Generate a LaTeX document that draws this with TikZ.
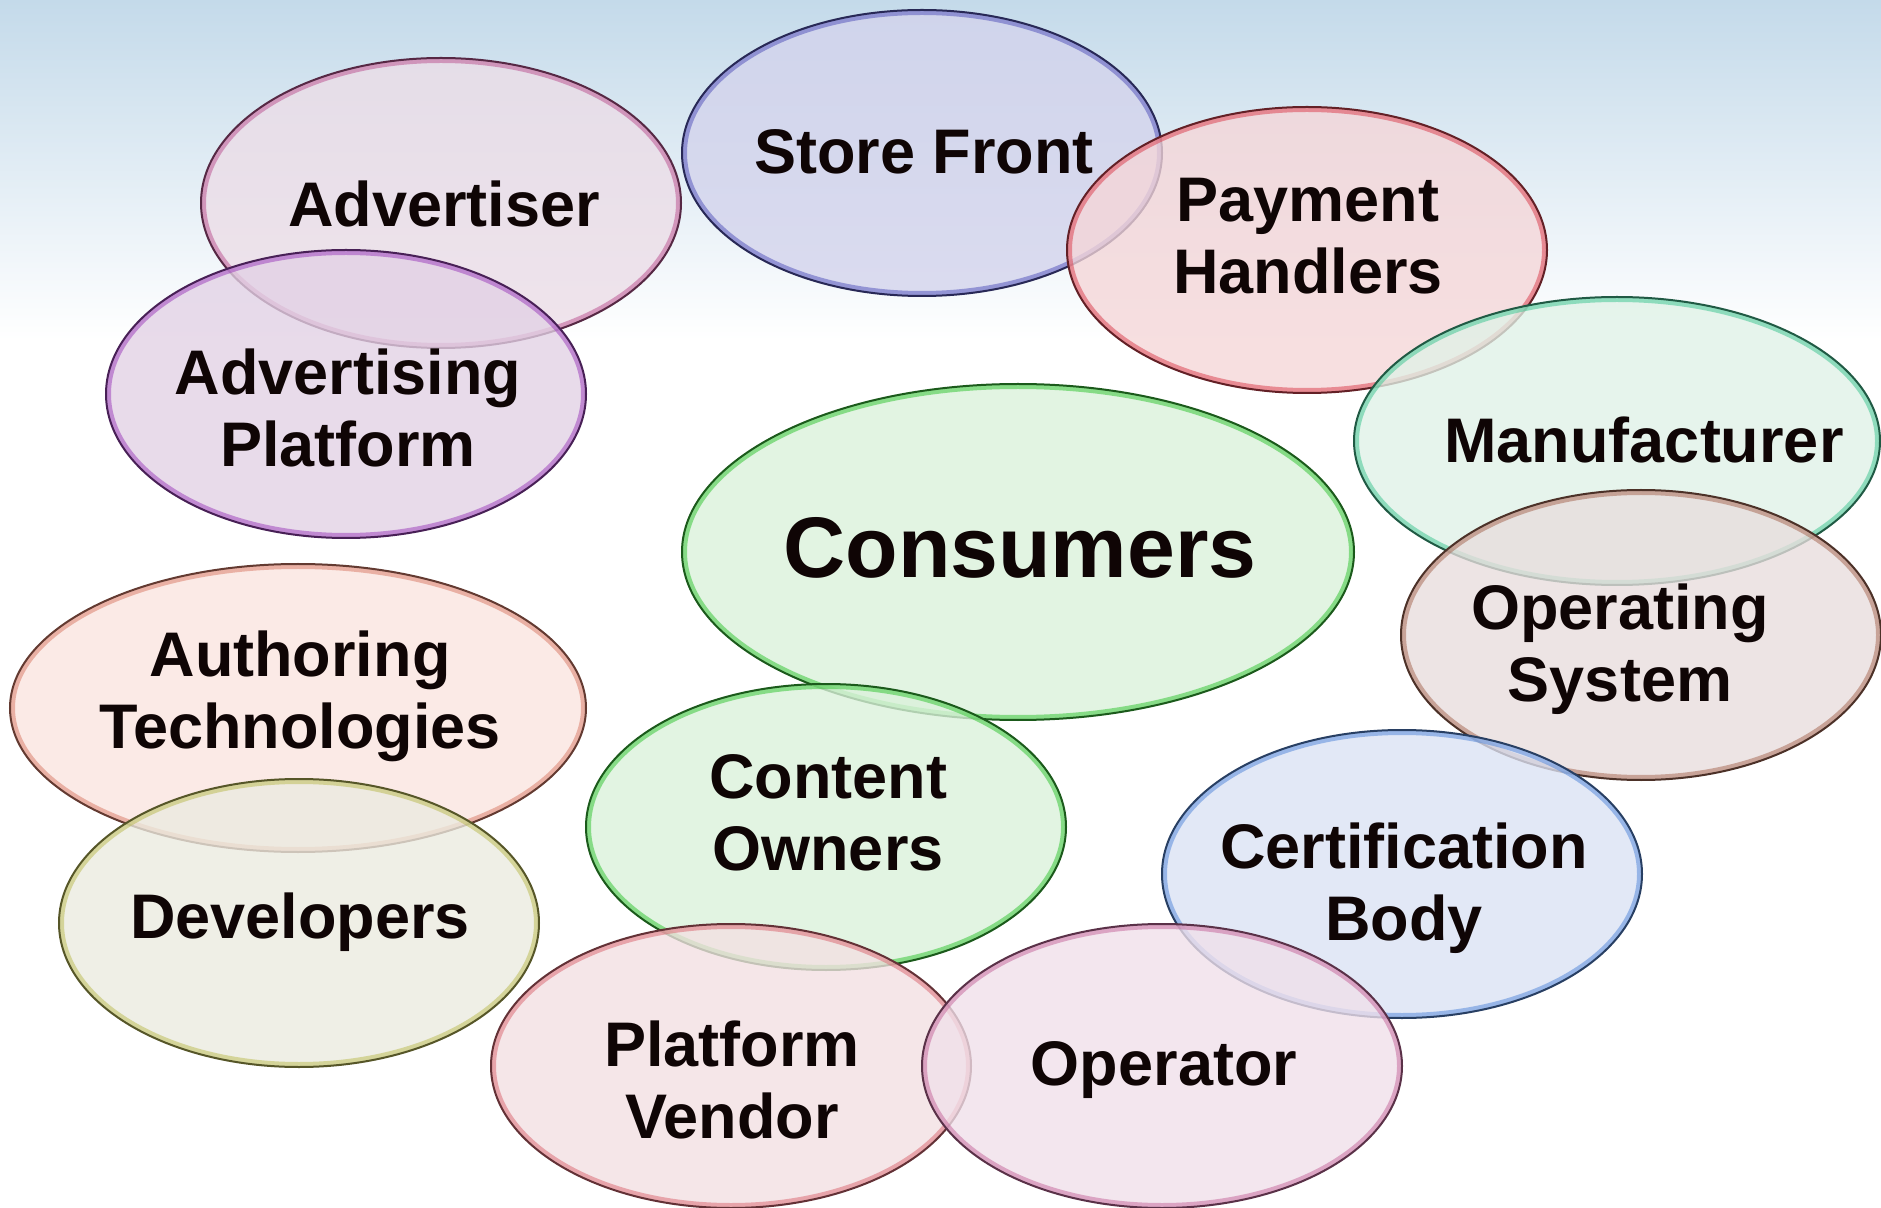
\documentclass[tikz,border=0pt]{standalone}
\usepackage{fontspec}
\setmainfont{Liberation Sans}
\usetikzlibrary{shapes.geometric,calc}
\definecolor{txt}{RGB}{15,5,5}
\definecolor{bgtop}{RGB}{196,218,234}
\definecolor{fSF}{RGB}{211,211,236}\definecolor{bSF}{RGB}{90,90,190}
\definecolor{fAD}{RGB}{236,221,231}\definecolor{bAD}{RGB}{190,90,150}
\definecolor{fAP}{RGB}{226,209,229}\definecolor{bAP}{RGB}{160,70,190}
\definecolor{fPH}{RGB}{245,214,216}\definecolor{bPH}{RGB}{220,70,85}
\definecolor{fMA}{RGB}{224,242,231}\definecolor{bMA}{RGB}{70,200,150}
\definecolor{fCN}{RGB}{219,241,219}\definecolor{bCN}{RGB}{60,200,60}
\definecolor{fOS}{RGB}{232,221,221}\definecolor{bOS}{RGB}{170,110,90}
\definecolor{fAT}{RGB}{251,229,224}\definecolor{bAT}{RGB}{220,130,110}
\definecolor{fDV}{RGB}{235,235,224}\definecolor{bDV}{RGB}{190,190,90}
\definecolor{fCB}{RGB}{219,226,244}\definecolor{bCB}{RGB}{90,140,220}
\definecolor{fPV}{RGB}{243,224,226}\definecolor{bPV}{RGB}{220,110,120}
\definecolor{fOP}{RGB}{240,224,234}\definecolor{bOP}{RGB}{200,110,160}
\tikzset{
  blob/.style 2 args={shape=ellipse, draw=#2!45!black, fill=#1, fill opacity=0.78,
    line width=1pt, inner sep=0pt, outer sep=0pt,
    minimum width=240pt, minimum height=144pt,
    path picture={\draw[#2, line width=5pt, draw opacity=0.55]
      let \p1=(path picture bounding box.north east),
          \p2=(path picture bounding box.center) in
      (\p2) ellipse [x radius={\x1-\x2}, y radius={\y1-\y2}];}},
  lbl/.style={font=\bfseries\fontsize{31.5}{36}\selectfont, text=txt,
    align=center, inner sep=0pt},
}
\begin{document}
\begin{tikzpicture}[x=0.5pt,y=-0.5pt]
\useasboundingbox (0,0) rectangle (1881,1208);
\fill[white] (0,0) rectangle (1881,1208);
\shade[top color=bgtop, bottom color=white] (0,0) rectangle (1881,340);
% ellipses
\node[blob={fSF}{bSF}, minimum height=143pt] (sf) at (922,153) {};
\node[blob={fAD}{bAD}, minimum height=145pt] (adv) at (441,203) {};
\node[blob={fAP}{bAP}] (advp) at (346,394) {};
\node[blob={fPH}{bPH}, minimum height=143pt] (pay) at (1307,250) {};
\node[blob={fMA}{bMA}, minimum width=263pt] (man) at (1617,441) {};
\node[blob={fOS}{bOS}, minimum height=145pt] (os) at (1641,635) {};
\node[blob={fCN}{bCN}, minimum width=336pt, minimum height=168pt] (con) at (1018,552) {};
\node[blob={fAT}{bAT}, minimum width=288pt] (auth) at (298,708) {};
\node[blob={fDV}{bDV}] (dev) at (299,923) {};
\node[blob={fCN}{bCN}, minimum height=143pt] (co) at (826,827) {};
\node[blob={fCB}{bCB}] (cert) at (1402,874) {};
\node[blob={fPV}{bPV}, minimum height=142pt] (pv) at (731,1066) {};
\node[blob={fOP}{bOP}, minimum height=142pt] (op) at (1162,1066) {};
% labels
\node[lbl] (tsf) at (924,152) {Store Front};
\node[lbl] (tadv) at (444,204) {Advertiser};
\node[lbl] (tadvp) at (348,408) {Advertising\\Platform};
\node[lbl] (tpay) at (1308,236) {Payment\\Handlers};
\node[lbl] (tman) at (1644,440) {Manufacturer};
\node[lbl] (tos) at (1620,649) {Operating\\System};
\node[lbl, font=\bfseries\fontsize{43}{48}\selectfont] (tcon) at (1020,548) {Consumers};
\node[lbl] (tauth) at (300,696) {Authoring\\Technologies};
\node[lbl] (tdev) at (300,922) {Developers};
\node[lbl] (tco) at (828,813) {Content\\Owners};
\node[lbl] (tcert) at (1404,888) {Certification\\Body};
\node[lbl] (tpv) at (732,1080) {Platform\\Vendor};
\node[lbl] (top) at (1164,1070) {Operator};
\end{tikzpicture}
\end{document}
